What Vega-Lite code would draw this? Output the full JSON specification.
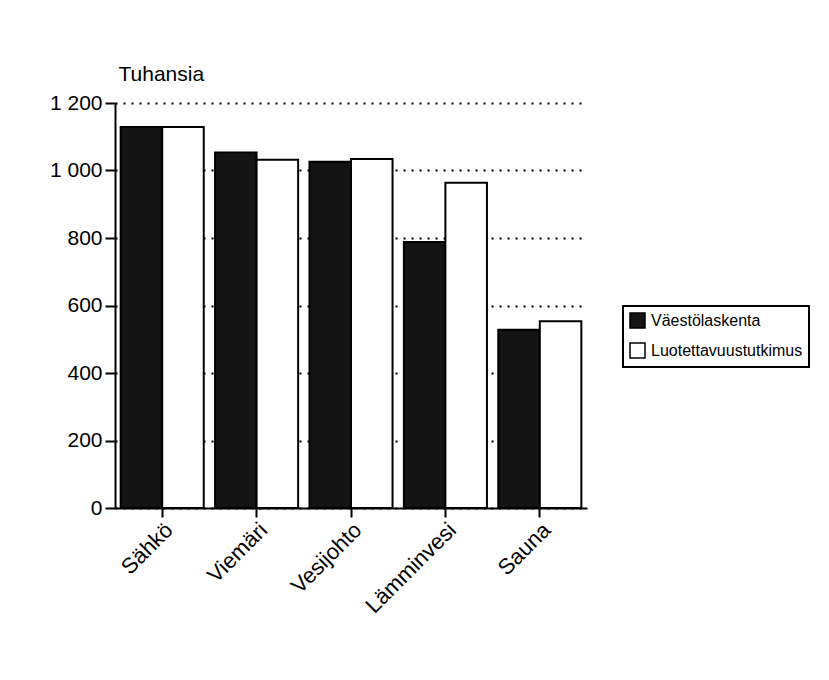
{
  "$schema": "https://vega.github.io/schema/vega-lite/v6.json",
  "autosize": "none",
  "width": 472,
  "height": 405,
  "padding": {"left": 115, "top": 103, "right": 242, "bottom": 172},
  "background": "white",
  "data": {
    "values": [
      {"kohde": "Sähkö", "lahde": "Väestölaskenta", "arvo": 1129},
      {"kohde": "Sähkö", "lahde": "Luotettavuustutkimus", "arvo": 1129},
      {"kohde": "Viemäri", "lahde": "Väestölaskenta", "arvo": 1053},
      {"kohde": "Viemäri", "lahde": "Luotettavuustutkimus", "arvo": 1032},
      {"kohde": "Vesijohto", "lahde": "Väestölaskenta", "arvo": 1026},
      {"kohde": "Vesijohto", "lahde": "Luotettavuustutkimus", "arvo": 1034},
      {"kohde": "Lämminvesi", "lahde": "Väestölaskenta", "arvo": 788},
      {"kohde": "Lämminvesi", "lahde": "Luotettavuustutkimus", "arvo": 964},
      {"kohde": "Sauna", "lahde": "Väestölaskenta", "arvo": 528},
      {"kohde": "Sauna", "lahde": "Luotettavuustutkimus", "arvo": 553}
    ]
  },
  "mark": {"type": "bar", "stroke": "black", "strokeWidth": 2},
  "encoding": {
    "x": {
      "field": "kohde",
      "type": "nominal",
      "sort": ["Sähkö", "Viemäri", "Vesijohto", "Lämminvesi", "Sauna"],
      "scale": {"paddingInner": 0.12, "paddingOuter": 0.06},
      "axis": {
        "title": null,
        "labelAngle": -45,
        "labelAlign": "right",
        "labelBaseline": "top",
        "labelFontSize": 22,
        "labelFont": "Liberation Sans",
        "labelColor": "black",
        "labelPadding": 2,
        "tickSize": 9,
        "tickWidth": 2,
        "tickColor": "black",
        "domainColor": "black",
        "domainWidth": 2
      }
    },
    "xOffset": {
      "field": "lahde",
      "type": "nominal",
      "sort": ["Väestölaskenta", "Luotettavuustutkimus"],
      "scale": {"paddingInner": 0, "paddingOuter": 0}
    },
    "y": {
      "field": "arvo",
      "type": "quantitative",
      "scale": {"domain": [0, 1200], "nice": false},
      "axis": {
        "title": "Tuhansia",
        "titleAngle": 0,
        "titleAlign": "left",
        "titleBaseline": "alphabetic",
        "titleX": 3,
        "titleY": -23,
        "titleFontSize": 21,
        "titleFontWeight": "normal",
        "titleFont": "Liberation Sans",
        "titleColor": "black",
        "values": [0, 200, 400, 600, 800, 1000, 1200],
        "labelExpr": "replace(format(datum.value, ','), ',', ' ')",
        "labelFontSize": 21,
        "labelFont": "Liberation Sans",
        "labelColor": "black",
        "labelPadding": 3,
        "tickSize": 10,
        "tickWidth": 2,
        "tickColor": "black",
        "domainColor": "black",
        "domainWidth": 2,
        "grid": true,
        "gridColor": "black",
        "gridDash": [2, 6],
        "gridWidth": 2
      }
    },
    "fill": {
      "field": "lahde",
      "type": "nominal",
      "sort": ["Väestölaskenta", "Luotettavuustutkimus"],
      "scale": {"range": ["#141414", "white"]},
      "legend": {
        "title": null,
        "orient": "none",
        "legendX": 508,
        "legendY": 203,
        "symbolType": "square",
        "symbolSize": 225,
        "symbolStrokeColor": "black",
        "symbolStrokeWidth": 1.5,
        "labelFontSize": 16,
        "labelFont": "Liberation Sans",
        "labelColor": "black",
        "labelLimit": 0,
        "labelOffset": 5,
        "rowPadding": 9,
        "strokeColor": "black",
        "padding": 6
      }
    }
  },
  "config": {
    "view": {"stroke": null},
    "legend": {"strokeWidth": 2}
  }
}
